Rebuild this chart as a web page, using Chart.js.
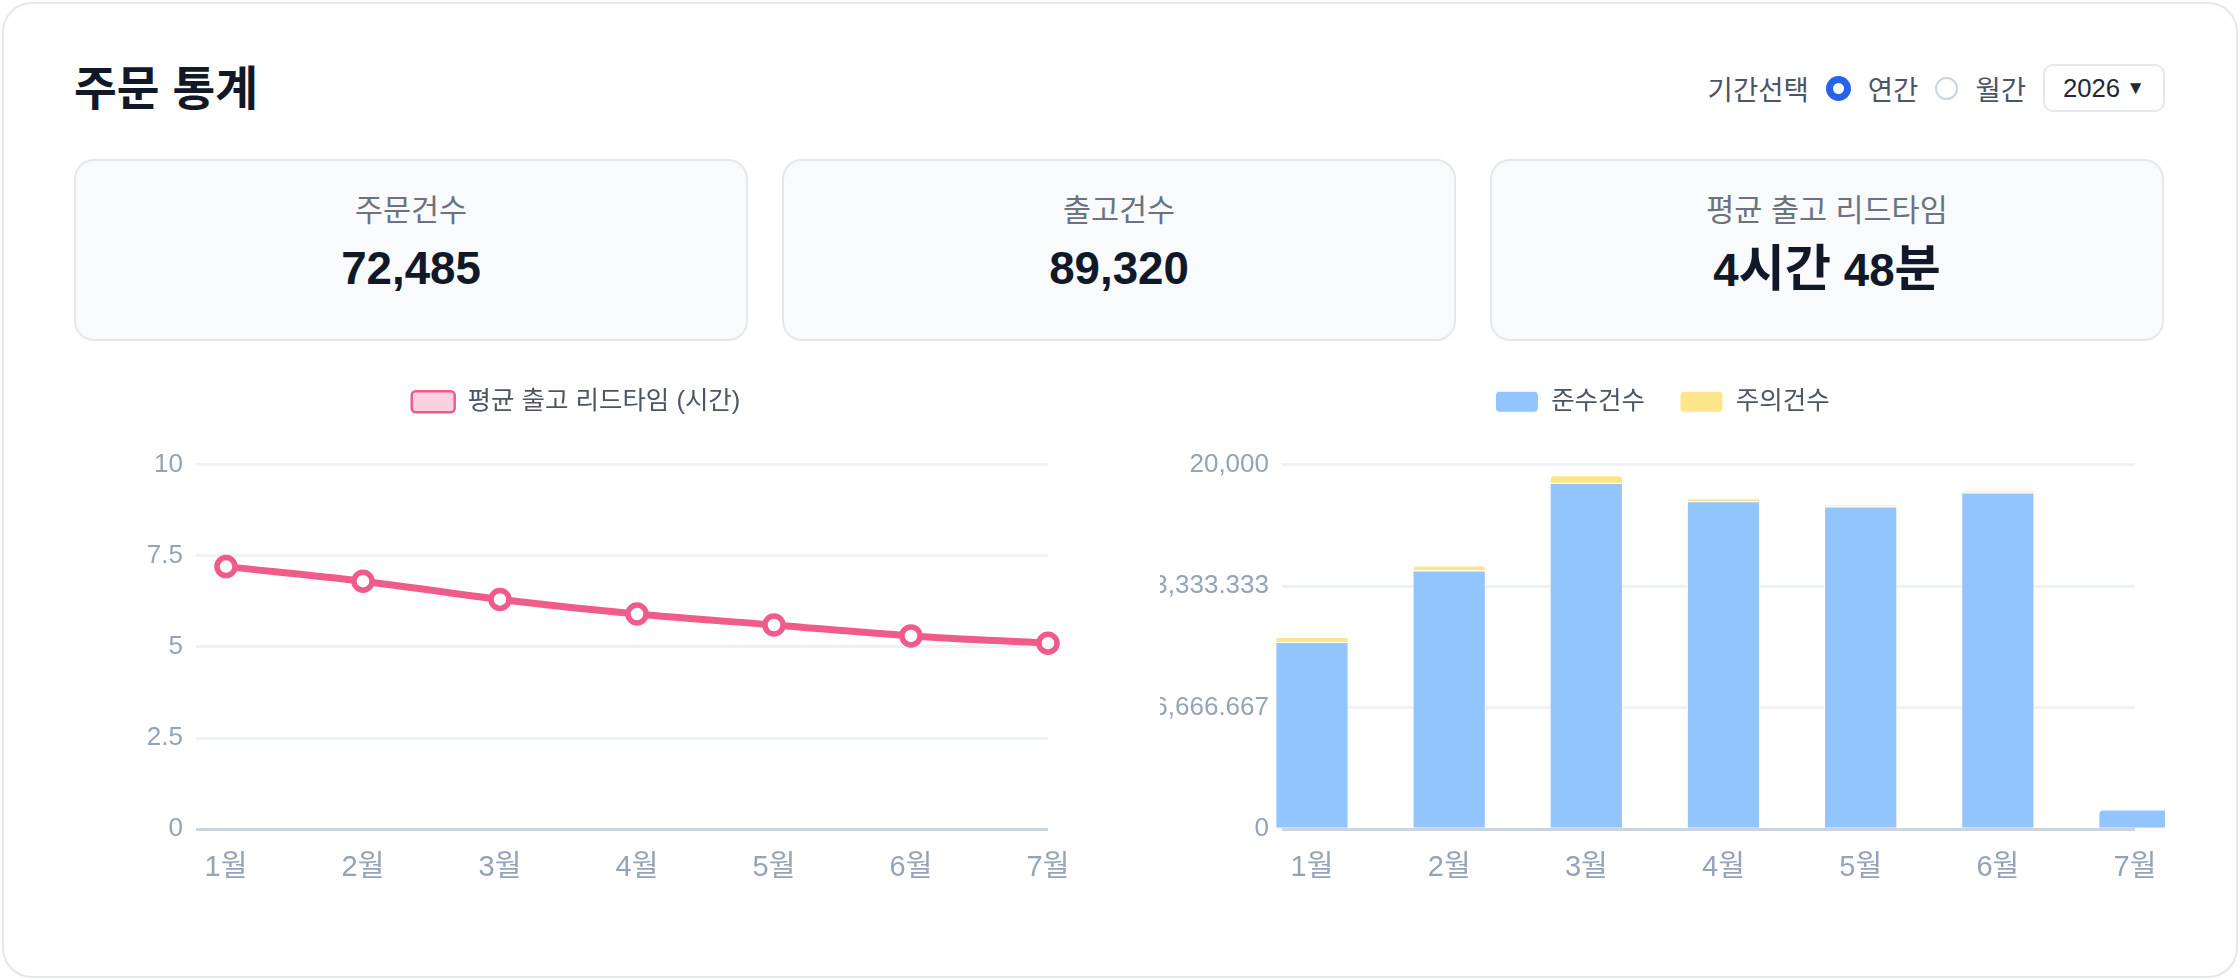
<!DOCTYPE html>
<html lang="ko">
<head>
<meta charset="utf-8">
<title>주문 통계</title>
<script src="https://cdn.jsdelivr.net/npm/chart.js@4.4.1/dist/chart.umd.min.js"></script>
<style>
    html, body { margin: 0; padding: 0; background: #ffffff; }
    body { width: 2240px; height: 980px; position: relative; overflow: hidden;
           font-family: "Liberation Sans", Arial, "Noto Sans CJK KR", sans-serif; }
    .panel { position: absolute; left: 2px; top: 2px; width: 2236px; height: 976px; box-sizing: border-box;
             border: 2px solid #e5e7eb; border-radius: 30px; background: #fff; }
    .title { position: absolute; left: 74px; top: 61px; margin: 0; font-size: 46.5px; line-height: 56px;
             font-weight: 700; color: #111827; }
    .controls { position: absolute; right: 75px; top: 64px; height: 48px; display: flex; align-items: center;
                gap: 17px; font-size: 27.5px; color: #4b5563; }
    .radio { display: inline-block; box-sizing: border-box; border-radius: 50%; }
    .radio.on { width: 25px; height: 25px; border: 7px solid #2563eb; }
    .radio.off { width: 23px; height: 23px; border: 2px solid #cbd5e1; }
    .select { box-sizing: border-box; width: 122px; height: 48px; border: 2px solid #e5e7eb; border-radius: 10px;
              display: flex; align-items: center; justify-content: center; color: #1f2937; font-size: 25.7px; }
    .select small { font-size: 19px; margin-left: 6px; }
    .kpi { position: absolute; top: 159px; width: 674px; height: 182px; box-sizing: border-box;
           border: 2px solid #e5e7eb; border-radius: 20px; background: #f8fafc; text-align: center; }
    .kpi .label { margin-top: 31px; font-size: 30.5px; line-height: 36px; color: #6b7280; }
    .kpi .value { margin-top: 13px; font-size: 45.7px; line-height: 55px; font-weight: 700; color: #111827; }
    .kpi .value .k { font-size: 1.1em; }
    .chart-box { position: absolute; top: 354px; height: 552px; width: 1004px; overflow: hidden; }
</style>
</head>
<body>
<div class="panel"></div>
<h1 class="title">주문 통계</h1>
<div class="controls">
    <span>기간선택</span>
    <span class="radio on"></span>
    <span>연간</span>
    <span class="radio off"></span>
    <span>월간</span>
    <div class="select">2026<small>▼</small></div>
</div>

<div class="kpi" style="left:74px"><div class="label">주문건수</div><div class="value">72,485</div></div>
<div class="kpi" style="left:782px"><div class="label">출고건수</div><div class="value">89,320</div></div>
<div class="kpi" style="left:1490px"><div class="label">평균 출고 리드타임</div>
    <div class="value">4<span class="k">시간</span> 48<span class="k">분</span></div></div>

<div class="chart-box" style="left:74px"><canvas id="leadTimeChart"></canvas></div>
<div class="chart-box" style="left:1160px; width:1005px"><canvas id="complianceChart"></canvas></div>

<script>
const months = ["1월", "2월", "3월", "4월", "5월", "6월", "7월"];

// 평균 출고 리드타임 (시간)
const leadTimeHours = [7.2, 6.8, 6.3, 5.9, 5.6, 5.3, 5.1];
const leadTimeTicks = [0, 2.5, 5, 7.5, 10];

// 준수 / 주의 건수
const okCounts = [10270, 14190, 18980, 17980, 17690, 18470, 1080];
const warnCounts = [275, 275, 435, 165, 110, 95, 0];
const countTicks = [0, 20000 / 3, 40000 / 3, 20000];

Chart.defaults.font.family = "'Liberation Sans', Arial, 'Noto Sans CJK KR', sans-serif";
Chart.defaults.color = '#94a3b8';

// y축 폭 고정 (두 차트 정렬용)
const fixedAxis = scale => { scale.width = 152; };
const gridColor = ctx => (ctx.tick && ctx.tick.value === 0) ? '#cbd5e1' : '#eef2f7';

// 범례 아래 여백
const legendGap = {
    id: 'legendGap',
    beforeInit(chart) {
        const fit = chart.legend.fit;
        chart.legend.fit = function () {
            fit.bind(chart.legend)();
            this.height += 40;
        };
    }
};

function commonX() {
    return {
        offset: false,
        afterFit: scale => { scale.paddingRight = 30; },
        grid: { display: false, drawTicks: false },
        border: { display: false },
        ticks: { color: '#94a3b8', font: { size: 29 }, padding: 21 }
    };
}

function commonY(max, ticks, fmt) {
    return {
        min: 0, max: max,
        afterFit: fixedAxis,
        afterBuildTicks: scale => { scale.ticks = ticks.map(v => ({ value: v })); },
        border: { display: false },
        grid: { color: gridColor, lineWidth: 3, tickLength: 30, drawTicks: true },
        ticks: { color: '#94a3b8', font: { size: 26 }, padding: 13, callback: fmt }
    };
}

function legendOpts() {
    return {
        position: 'top',
        labels: {
            color: '#4b5563', font: { size: 25.5 }, boxWidth: 43, boxHeight: 21,
            padding: 35, useBorderRadius: true, borderRadius: 4,
            generateLabels: chart => Chart.defaults.plugins.legend.labels.generateLabels(chart)
                .map(item => Object.assign(item, { lineWidth: item.lineWidth > 1 ? 2.5 : item.lineWidth }))
        }
    };
}

function initLeadTime() {
    const ctx = document.getElementById('leadTimeChart').getContext('2d');
    new Chart(ctx, {
        type: 'line',
        data: {
            labels: months,
            datasets: [{
                label: '평균 출고 리드타임 (시간)',
                data: leadTimeHours,
                borderColor: '#f05c8a',
                backgroundColor: '#fbd0e1',
                borderWidth: 7,
                tension: 0.35,
                pointRadius: 9,
                pointBorderWidth: 5.5,
                pointBackgroundColor: '#ffffff',
                pointBorderColor: '#f05c8a',
                fill: false
            }]
        },
        options: {
            animation: false,
            responsive: true,
            maintainAspectRatio: false,
            plugins: { legend: legendOpts(), tooltip: { enabled: false } },
            scales: {
                x: commonX(),
                y: commonY(10, leadTimeTicks, v => String(v))
            }
        },
        plugins: [legendGap]
    });
}

function initCompliance() {
    const ctx = document.getElementById('complianceChart').getContext('2d');
    const barStyle = { borderWidth: 1, borderColor: '#ffffff', borderRadius: 5, clip: false,
                       categoryPercentage: 0.6, barPercentage: 0.89 };
    new Chart(ctx, {
        type: 'bar',
        data: {
            labels: months,
            datasets: [
                Object.assign({ label: '준수건수', data: okCounts, backgroundColor: '#93c5fd' }, barStyle),
                Object.assign({ label: '주의건수', data: warnCounts, backgroundColor: '#fde68a' }, barStyle)
            ]
        },
        options: {
            animation: false,
            responsive: true,
            maintainAspectRatio: false,
            plugins: { legend: legendOpts(), tooltip: { enabled: false } },
            scales: {
                x: Object.assign(commonX(), { stacked: true }),
                y: Object.assign(commonY(20000, countTicks, v => v.toLocaleString('en-US')), { stacked: true })
            }
        },
        plugins: [legendGap]
    });
}

window.onload = () => { initLeadTime(); initCompliance(); };
</script>
</body>
</html>
